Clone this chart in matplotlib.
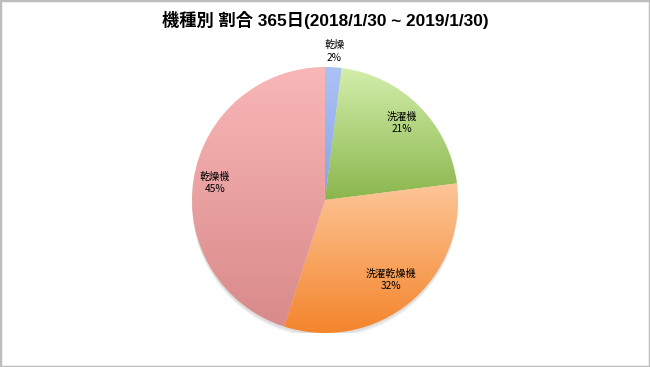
import numpy as np
import matplotlib.pyplot as plt
from matplotlib.colors import LinearSegmentedColormap
from matplotlib.patches import Rectangle, Circle

plt.rcParams['font.family'] = ['Noto Sans CJK JP', 'DejaVu Sans']

# データ
title = "機種別 割合 365日(2018/1/30 ~ 2019/1/30)"
labels = ["乾燥", "洗濯機", "洗濯乾燥機", "乾燥機"]
values = [2, 21, 32, 45]
# グラデーション (上, 下)
top_colors = ["#abc2f4", "#d3eeab", "#fdc697", "#f9b7b7"]
bottom_colors = ["#86a4e6", "#8ab64c", "#f4842b", "#d98a8a"]
label_dist = [1.12, 0.82, 0.78, 0.84]

fig = plt.figure(figsize=(6.5, 3.67), dpi=100)
fig.patch.set_facecolor("white")

R = 133
cx, cy = 325, 367 - 200
ax = fig.add_axes([(cx - R) / 650, (cy - R) / 367, 2 * R / 650, 2 * R / 367])

# うっすら影 (下側のみ)
for i in range(5):
    ax.add_patch(Circle((0, -0.012 - i * 0.006), 1.0, color="gray",
                        alpha=0.06, lw=0, zorder=0))

wedges, _ = ax.pie(values, startangle=90, counterclock=False, radius=1,
                   wedgeprops=dict(linewidth=0))

for w, c0, c1 in zip(wedges, top_colors, bottom_colors):
    pts = w.get_patch_transform().transform(w.get_path().vertices)
    y0, y1 = pts[:, 1].min(), pts[:, 1].max()
    x0, x1 = pts[:, 0].min(), pts[:, 0].max()
    cmap = LinearSegmentedColormap.from_list("g", [c1, c0])
    grad = np.linspace(0, 1, 256).reshape(-1, 1)
    im = ax.imshow(grad, cmap=cmap, extent=[x0, x1, y0, y1], origin="lower",
                   aspect="auto", zorder=2, interpolation="bilinear")
    im.set_clip_path(w)
    w.set_facecolor("none")

for w, lab, v, d in zip(wedges, labels, values, label_dist):
    ang = np.deg2rad((w.theta1 + w.theta2) / 2)
    ax.text(d * np.cos(ang), d * np.sin(ang), f"{lab}\n{v}%", ha="center", va="center",
            fontsize=7.3, color="black", zorder=5, linespacing=1.3)

ax.set_xlim(-1, 1)
ax.set_ylim(-1, 1)
ax.set_aspect("equal")
ax.axis("off")

fig.text(0.5, 1 - 20 / 367, title, ha="center", va="center", fontsize=12.4, fontweight="bold",
         family=['Liberation Sans', 'Noto Sans CJK JP'])

fig.add_artist(Rectangle((0, 0), 1, 1, transform=fig.transFigure, fill=False,
                         edgecolor="#bdbdbd", linewidth=2.5))

fig.savefig("out.png", dpi=100)
